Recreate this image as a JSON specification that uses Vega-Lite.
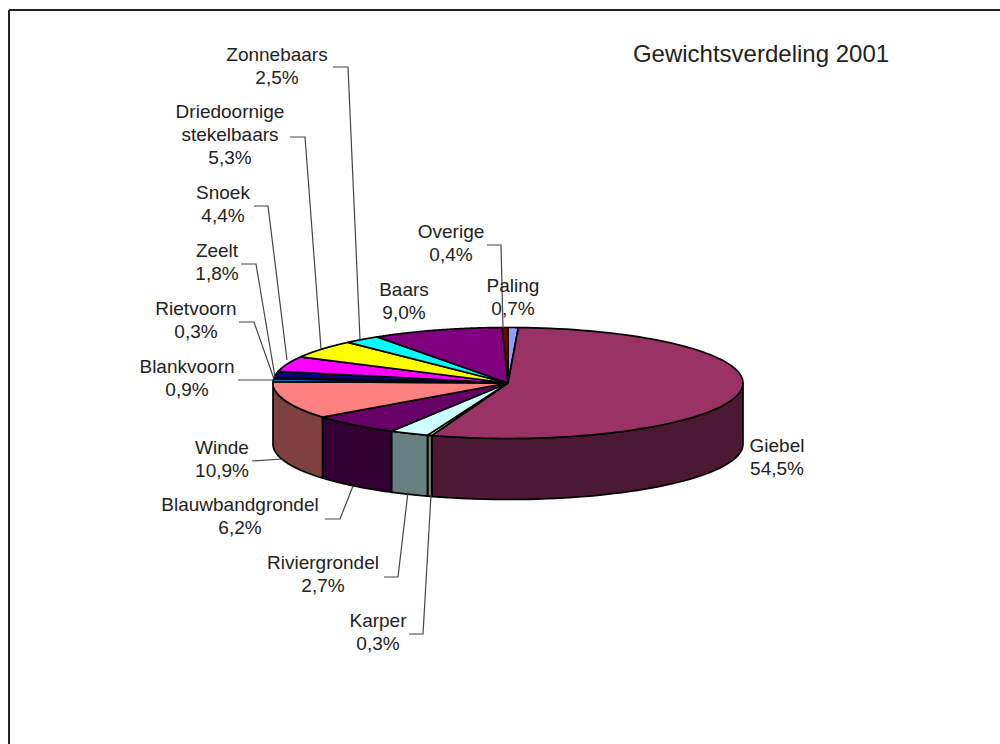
{
  "$schema": "https://vega.github.io/schema/vega-lite/v6.json",
  "autosize": {"type": "none"},
  "width": 1000,
  "height": 744,
  "padding": 0,
  "background": "white",
  "view": {"stroke": null},
  "datasets": {
    "slices": [
      {"soort": "Paling", "aandeel": 0.7},
      {"soort": "Giebel", "aandeel": 54.5},
      {"soort": "Karper", "aandeel": 0.3},
      {"soort": "Riviergrondel", "aandeel": 2.7},
      {"soort": "Blauwbandgrondel", "aandeel": 6.2},
      {"soort": "Winde", "aandeel": 10.9},
      {"soort": "Blankvoorn", "aandeel": 0.9},
      {"soort": "Rietvoorn", "aandeel": 0.3},
      {"soort": "Zeelt", "aandeel": 1.8},
      {"soort": "Snoek", "aandeel": 4.4},
      {"soort": "Driedoornige stekelbaars", "aandeel": 5.3},
      {"soort": "Zonnebaars", "aandeel": 2.5},
      {"soort": "Baars", "aandeel": 9.0},
      {"soort": "Overige", "aandeel": 0.4}
    ],
    "labels": [
      {"tekst": "Zonnebaars\n2,5%", "x": 277, "y": 55},
      {"tekst": "Driedoornige\nstekelbaars\n5,3%", "x": 230, "y": 112},
      {"tekst": "Snoek\n4,4%", "x": 223, "y": 193},
      {"tekst": "Zeelt\n1,8%", "x": 217, "y": 251},
      {"tekst": "Rietvoorn\n0,3%", "x": 196, "y": 309},
      {"tekst": "Blankvoorn\n0,9%", "x": 187, "y": 367},
      {"tekst": "Baars\n9,0%", "x": 404, "y": 290},
      {"tekst": "Overige\n0,4%", "x": 451, "y": 232},
      {"tekst": "Paling\n0,7%", "x": 513, "y": 286},
      {"tekst": "Giebel\n54,5%", "x": 777, "y": 446},
      {"tekst": "Winde\n10,9%", "x": 222, "y": 448},
      {"tekst": "Blauwbandgrondel\n6,2%", "x": 240, "y": 505},
      {"tekst": "Riviergrondel\n2,7%", "x": 323, "y": 563},
      {"tekst": "Karper\n0,3%", "x": 378, "y": 621}
    ],
    "leaders": [
      {"soort": "Zonnebaars", "n": 0, "x": 333, "y": 67},
      {"soort": "Zonnebaars", "n": 1, "x": 348, "y": 67},
      {"soort": "Zonnebaars", "n": 2, "x": 360, "y": 339},
      {"soort": "Driedoornige", "n": 0, "x": 290, "y": 137},
      {"soort": "Driedoornige", "n": 1, "x": 305, "y": 137},
      {"soort": "Driedoornige", "n": 2, "x": 321, "y": 349},
      {"soort": "Snoek", "n": 0, "x": 254, "y": 206},
      {"soort": "Snoek", "n": 1, "x": 268, "y": 206},
      {"soort": "Snoek", "n": 2, "x": 287, "y": 360},
      {"soort": "Zeelt", "n": 0, "x": 241, "y": 264},
      {"soort": "Zeelt", "n": 1, "x": 256, "y": 264},
      {"soort": "Zeelt", "n": 2, "x": 275, "y": 377},
      {"soort": "Rietvoorn", "n": 0, "x": 239, "y": 322},
      {"soort": "Rietvoorn", "n": 1, "x": 254, "y": 322},
      {"soort": "Rietvoorn", "n": 2, "x": 274, "y": 379},
      {"soort": "Blankvoorn", "n": 0, "x": 238, "y": 380},
      {"soort": "Blankvoorn", "n": 1, "x": 273, "y": 380},
      {"soort": "Overige", "n": 0, "x": 487, "y": 245},
      {"soort": "Overige", "n": 1, "x": 501, "y": 245},
      {"soort": "Overige", "n": 2, "x": 503, "y": 328},
      {"soort": "Winde", "n": 0, "x": 252, "y": 461},
      {"soort": "Winde", "n": 1, "x": 283, "y": 459},
      {"soort": "Blauwbandgrondel", "n": 0, "x": 325, "y": 519},
      {"soort": "Blauwbandgrondel", "n": 1, "x": 340, "y": 519},
      {"soort": "Blauwbandgrondel", "n": 2, "x": 353, "y": 486},
      {"soort": "Riviergrondel", "n": 0, "x": 384, "y": 577},
      {"soort": "Riviergrondel", "n": 1, "x": 398, "y": 577},
      {"soort": "Riviergrondel", "n": 2, "x": 408, "y": 492},
      {"soort": "Karper", "n": 0, "x": 409, "y": 634},
      {"soort": "Karper", "n": 1, "x": 423, "y": 634},
      {"soort": "Karper", "n": 2, "x": 431, "y": 495}
    ]
  },
  "layer": [
    {
      "description": "Kader: linker- en bovenrand",
      "data": {"values": [{"x": 9, "x2": 9, "y": 10, "y2": 744}, {"x": 9, "x2": 1000, "y": 10, "y2": 10}]},
      "mark": {"type": "rule", "stroke": "#222222", "strokeWidth": 2},
      "encoding": {
        "x": {"field": "x", "type": "quantitative", "scale": {"domain": [0, 1000], "nice": false}, "axis": null},
        "x2": {"field": "x2"},
        "y": {"field": "y", "type": "quantitative", "scale": {"domain": [744, 0], "nice": false}, "axis": null},
        "y2": {"field": "y2"}
      }
    },
    {
      "description": "Zijwand van de taart: alleen de voorste helft (90 tot 270 graden)",
      "data": {"name": "slices"},
      "transform": [
        {"joinaggregate": [{"op": "sum", "field": "aandeel", "as": "totaal"}]},
        {"window": [{"op": "sum", "field": "aandeel", "as": "cum"}]},
        {"calculate": "max((datum.cum - datum.aandeel) / datum.totaal * 2 * PI, PI / 2)", "as": "a0"},
        {"calculate": "min(datum.cum / datum.totaal * 2 * PI, 3 * PI / 2)", "as": "a1"},
        {"filter": "datum.a1 > datum.a0"},
        {"calculate": "sequence(0, 1.0001, 0.02)", "as": "t"},
        {"flatten": ["t"]},
        {"calculate": "datum.a0 + datum.t * (datum.a1 - datum.a0)", "as": "hoek"},
        {"calculate": "508 + 235 * sin(datum.hoek)", "as": "x"},
        {"calculate": "383 - 55.5 * cos(datum.hoek)", "as": "y"},
        {"calculate": "datum.y + 61", "as": "y2"}
      ],
      "layer": [
        {
          "mark": {"type": "area", "interpolate": "linear"},
          "encoding": {
            "x": {"field": "x", "type": "quantitative", "scale": {"domain": [0, 1000], "nice": false}, "axis": null},
            "y": {"field": "y", "type": "quantitative", "scale": {"domain": [744, 0], "nice": false}, "axis": null},
            "y2": {"field": "y2"},
            "detail": {"field": "soort"},
            "fill": {
              "field": "soort", "type": "nominal", "legend": null,
              "scale": {
                "domain": ["Paling", "Giebel", "Karper", "Riviergrondel", "Blauwbandgrondel", "Winde", "Blankvoorn", "Rietvoorn", "Zeelt", "Snoek", "Driedoornige stekelbaars", "Zonnebaars", "Baars", "Overige"],
                "range": ["#9999ff", "#993366", "#ffffcc", "#ccffff", "#660066", "#ff8080", "#0066cc", "#000000", "#000080", "#ff00ff", "#ffff00", "#00ffff", "#800080", "#800000"]
              }
            }
          }
        },
        {
          "mark": {"type": "area", "interpolate": "linear", "fill": "#000000", "fillOpacity": 0.5, "stroke": "#000000", "strokeWidth": 1.7},
          "encoding": {
            "x": {"field": "x", "type": "quantitative"},
            "y": {"field": "y", "type": "quantitative"},
            "y2": {"field": "y2"},
            "detail": {"field": "soort"}
          }
        }
      ]
    },
    {
      "description": "Bovenvlak: elke punt als ellipssector vanuit het middelpunt",
      "data": {"name": "slices"},
      "transform": [
        {"joinaggregate": [{"op": "sum", "field": "aandeel", "as": "totaal"}]},
        {"window": [{"op": "sum", "field": "aandeel", "as": "cum"}]},
        {"calculate": "(datum.cum - datum.aandeel) / datum.totaal * 2 * PI", "as": "a0"},
        {"calculate": "datum.cum / datum.totaal * 2 * PI", "as": "a1"},
        {"calculate": "sequence(-1, 102)", "as": "i"},
        {"flatten": ["i"]},
        {"calculate": "datum.a0 + datum.i / 100 * (datum.a1 - datum.a0)", "as": "hoek"},
        {"calculate": "datum.i < 0 || datum.i > 100 ? 508 : 508 + 235 * sin(datum.hoek)", "as": "x"},
        {"calculate": "datum.i < 0 || datum.i > 100 ? 383 : 383 - 55.5 * cos(datum.hoek)", "as": "y"}
      ],
      "mark": {"type": "line", "stroke": "#000000", "strokeWidth": 1.7, "strokeJoin": "round", "interpolate": "linear"},
      "encoding": {
        "x": {"field": "x", "type": "quantitative"},
        "y": {"field": "y", "type": "quantitative"},
        "order": {"field": "i", "type": "quantitative"},
        "detail": {"field": "soort"},
        "fill": {"field": "soort", "type": "nominal", "legend": null}
      }
    },
    {
      "description": "Verbindingslijnen tussen label en punt",
      "data": {"name": "leaders"},
      "mark": {"type": "line", "stroke": "#444444", "strokeWidth": 1.2, "interpolate": "linear"},
      "encoding": {
        "x": {"field": "x", "type": "quantitative"},
        "y": {"field": "y", "type": "quantitative"},
        "order": {"field": "n", "type": "quantitative"},
        "detail": {"field": "soort"}
      }
    },
    {
      "description": "Labels met naam en percentage",
      "data": {"name": "labels"},
      "mark": {"type": "text", "font": "Liberation Sans", "fontSize": 19, "fill": "#222222", "align": "center", "baseline": "middle", "lineBreak": "\n", "lineHeight": 23},
      "encoding": {
        "x": {"field": "x", "type": "quantitative"},
        "y": {"field": "y", "type": "quantitative"},
        "text": {"field": "tekst", "type": "nominal"}
      }
    },
    {
      "description": "Titel",
      "data": {"values": [{"titel": "Gewichtsverdeling 2001", "x": 761, "y": 55}]},
      "mark": {"type": "text", "font": "Liberation Sans", "fontSize": 24, "fill": "#222222", "align": "center", "baseline": "middle"},
      "encoding": {
        "x": {"field": "x", "type": "quantitative"},
        "y": {"field": "y", "type": "quantitative"},
        "text": {"field": "titel", "type": "nominal"}
      }
    }
  ]
}
